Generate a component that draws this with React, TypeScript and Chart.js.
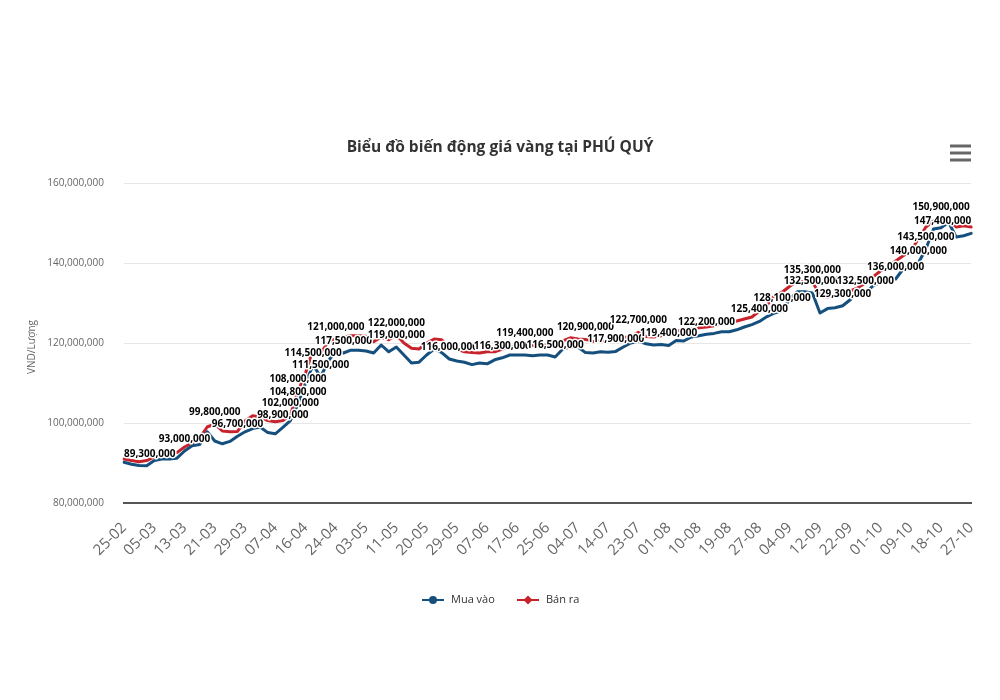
import React, { useEffect, useRef } from 'react';
import { Chart, registerables } from 'chart.js';

Chart.register(...registerables);

const TITLE = 'Biểu đồ biến động giá vàng tại PHÚ QUÝ';
const Y_TITLE = 'VND/Lượng';
const SERIES_NAMES = ['Mua vào', 'Bán ra'];
const SERIES_COLORS = ['#154f7e', '#c8232c'];

const TICK_LABELS = [
  '25-02', '05-03', '13-03', '21-03', '29-03', '07-04', '16-04', '24-04', '03-05', '11-05',
  '20-05', '29-05', '07-06', '17-06', '25-06', '04-07', '14-07', '23-07', '01-08', '10-08',
  '19-08', '27-08', '04-09', '12-09', '22-09', '01-10', '09-10', '18-10', '27-10',
];
const POINTS_PER_TICK = 4;

// values in million VND / lượng
const MUA_VAO = [
  90.2, 89.7, 89.4, 89.3, 90.6, 91.0, 91.0, 91.2, 93.0, 94.3,
  94.6, 97.8, 95.5, 94.8, 95.4, 96.7, 97.8, 98.6, 99.0, 97.6,
  97.3, 98.9, 100.6, 104.8, 110.0, 114.5, 111.5, 115.5, 118.0, 117.5,
  118.2, 118.2, 118.0, 117.5, 119.5, 117.8, 119.0, 117.0, 115.0, 115.2,
  117.0, 118.5, 117.6, 116.0, 115.5, 115.2, 114.6, 115.0, 114.8, 115.8,
  116.3, 117.0, 117.0, 117.0, 116.8, 117.0, 117.0, 116.5, 118.5, 119.0,
  119.0, 117.6, 117.5, 117.8, 117.7, 117.9, 119.0, 120.0, 120.5, 119.8,
  119.5, 119.6, 119.4, 120.6, 120.5, 121.5, 121.8, 122.2, 122.4, 122.8,
  122.8, 123.3, 124.0, 124.6, 125.4, 126.6, 127.5, 128.1, 131.0, 132.8,
  132.8, 132.5, 127.5, 128.6, 128.8, 129.3, 130.8, 133.5, 132.5, 134.3,
  135.2, 135.8, 136.0, 138.5, 139.5, 140.0, 143.5, 148.5, 148.8, 150.2,
  146.5, 146.8, 147.4,
];

const BAN_RA = [
  91.0, 90.6, 90.3, 90.6, 91.5, 92.0, 92.3, 92.6, 94.0, 95.0,
  96.3, 99.0, 99.8, 98.0, 97.8, 97.9, 100.5, 101.8, 101.5, 100.6,
  100.3, 100.6, 102.0, 108.0, 112.5, 118.5, 117.5, 120.2, 121.0, 121.5,
  121.8, 121.8, 121.7, 120.3, 121.5, 120.8, 122.0, 120.0, 118.7, 118.5,
  120.0, 121.0, 120.8, 119.0, 118.5, 117.8, 117.6, 117.5, 117.8, 117.8,
  118.5, 119.0, 119.2, 119.4, 119.4, 119.4, 119.5, 119.6, 120.5, 121.3,
  121.0, 120.9, 120.4, 120.5, 120.7, 120.9, 121.3, 121.6, 122.7, 121.6,
  121.5, 121.8, 122.3, 122.9, 123.3, 123.5, 123.8, 124.0, 124.3, 124.8,
  125.0, 125.5, 126.0, 126.5, 128.0, 129.5, 131.8, 132.7, 134.2, 135.5,
  135.3, 135.3, 132.0, 131.5, 132.0, 132.3, 133.0, 133.8, 135.0, 136.5,
  138.0, 139.0, 140.5, 141.8, 143.0, 146.0, 149.0, 150.5, 150.9, 150.7,
  149.0, 149.3, 149.0,
];

// [series index, point index] of the points that carry a value label
const LABELLED_POINTS: [number, number][] = [
  [0, 3], [0, 8], [1, 12], [0, 15], [0, 21], [1, 22], [0, 23], [1, 23], [0, 25], [0, 26],
  [1, 28], [0, 29], [1, 36], [0, 36], [0, 43], [0, 50], [1, 53], [0, 57], [1, 61], [0, 65],
  [1, 68], [0, 72], [0, 77], [0, 84], [0, 87], [1, 91], [0, 91], [0, 95], [0, 98], [0, 102],
  [0, 105], [0, 106], [1, 108], [0, 112],
];

const Y_MIN = 80000000;
const Y_MAX = 160000000;
const Y_STEP = 20000000;

const FONT = '"Open Sans", "Noto Sans", sans-serif';

const CATEGORIES = MUA_VAO.map((_, i) => (i % POINTS_PER_TICK === 0 ? TICK_LABELS[i / POINTS_PER_TICK] : ''));
const toVnd = (arr: number[]) => arr.map((v) => Math.round(v * 1000000));
const fmt = (v: number) => Math.round(v).toLocaleString('en-US');

const decorPlugin = {
  id: 'decor',
  afterDatasetsDraw(chart: any) {
    const { ctx, chartArea } = chart;
    ctx.save();
    ctx.font = `bold 10px ${FONT}`;
    ctx.textAlign = 'center';
    ctx.textBaseline = 'middle';
    ctx.lineJoin = 'round';
    LABELLED_POINTS.forEach(([s, i]) => {
      const meta = chart.getDatasetMeta(s);
      const el = meta.data[i];
      if (!el) return;
      const value = chart.data.datasets[s].data[i] as number;
      const text = fmt(value);
      const w = ctx.measureText(text).width;
      let x = el.x;
      x = Math.max(chartArea.left + w / 2, Math.min(chartArea.right - w / 2, x));
      const y = el.y - 12;
      ctx.strokeStyle = '#ffffff';
      ctx.lineWidth = 3;
      ctx.strokeText(text, x, y);
      ctx.fillStyle = '#000000';
      ctx.fillText(text, x, y);
    });
    ctx.restore();
  },
  afterDraw(chart: any) {
    const { ctx, chartArea } = chart;
    ctx.save();
    // title
    ctx.fillStyle = '#333333';
    ctx.font = `bold 15.5px ${FONT}`;
    ctx.textAlign = 'center';
    ctx.textBaseline = 'middle';
    ctx.fillText(TITLE, 500, 148);
    // menu icon
    ctx.strokeStyle = '#666666';
    ctx.lineWidth = 3;
    ctx.lineCap = 'butt';
    [146, 153, 160].forEach((yy) => {
      ctx.beginPath();
      ctx.moveTo(950, yy);
      ctx.lineTo(971, yy);
      ctx.stroke();
    });
    // y title
    ctx.save();
    ctx.translate(32, (chartArea.top + chartArea.bottom) / 2 + 4);
    ctx.rotate(-Math.PI / 2);
    ctx.font = `10px ${FONT}`;
    ctx.fillStyle = '#666666';
    ctx.textAlign = 'center';
    ctx.textBaseline = 'middle';
    ctx.fillText(Y_TITLE, 0, 0);
    ctx.restore();
    // legend
    const ly = 600;
    const items = [
      { x: 422, name: SERIES_NAMES[0], color: SERIES_COLORS[0], shape: 'circle' },
      { x: 517, name: SERIES_NAMES[1], color: SERIES_COLORS[1], shape: 'diamond' },
    ];
    items.forEach((it) => {
      ctx.strokeStyle = it.color;
      ctx.fillStyle = it.color;
      ctx.lineWidth = 2;
      ctx.beginPath();
      ctx.moveTo(it.x, ly);
      ctx.lineTo(it.x + 22, ly);
      ctx.stroke();
      const cx = it.x + 11;
      ctx.beginPath();
      if (it.shape === 'circle') {
        ctx.arc(cx, ly, 4, 0, Math.PI * 2);
      } else {
        ctx.moveTo(cx, ly - 4.5);
        ctx.lineTo(cx + 4.5, ly);
        ctx.lineTo(cx, ly + 4.5);
        ctx.lineTo(cx - 4.5, ly);
        ctx.closePath();
      }
      ctx.fill();
      ctx.fillStyle = '#333333';
      ctx.font = `11px ${FONT}`;
      ctx.textAlign = 'left';
      ctx.textBaseline = 'middle';
      ctx.fillText(it.name, it.x + 29, ly);
    });
    ctx.restore();
  },
};

export default function App() {
  const canvasRef = useRef<HTMLCanvasElement | null>(null);

  useEffect(() => {
    const canvas = canvasRef.current;
    if (!canvas) return;
    const chart = new Chart(canvas, {
      type: 'line',
      data: {
        labels: CATEGORIES,
        datasets: [
          {
            label: SERIES_NAMES[0],
            data: toVnd(MUA_VAO),
            borderColor: SERIES_COLORS[0],
            backgroundColor: SERIES_COLORS[0],
            borderWidth: 3,
            pointRadius: 0,
            tension: 0,
            borderJoinStyle: 'round',
            borderCapStyle: 'round',
          },
          {
            label: SERIES_NAMES[1],
            data: toVnd(BAN_RA),
            borderColor: SERIES_COLORS[1],
            backgroundColor: SERIES_COLORS[1],
            borderWidth: 3,
            pointRadius: 0,
            tension: 0,
            borderJoinStyle: 'round',
            borderCapStyle: 'round',
          },
        ],
      },
      options: {
        responsive: false,
        animation: false,
        layout: { padding: { left: 0, top: 183, right: 23, bottom: 137 } },
        plugins: {
          legend: { display: false },
          title: { display: false },
          tooltip: { enabled: false },
        },
        scales: {
          x: {
            type: 'category',
            offset: false,
            grid: { display: false, drawTicks: false },
            border: { display: true, color: '#555555', width: 2 },
            ticks: {
              autoSkip: false,
              maxRotation: 45,
              minRotation: 45,
              padding: 16,
              color: '#666666',
              font: { family: FONT, size: 15 },
            },
            afterFit: (scale: any) => {
              scale.height = 60;
            },
          },
          y: {
            min: Y_MIN,
            max: Y_MAX,
            grid: { color: '#e6e6e6', lineWidth: 1, drawTicks: false },
            border: { display: false },
            ticks: {
              stepSize: Y_STEP,
              padding: 20,
              color: '#666666',
              font: { family: FONT, size: 10 },
              callback: (v: any) => fmt(Number(v)),
            },
            afterFit: (scale: any) => {
              scale.width = 124;
            },
          },
        },
      },
      plugins: [decorPlugin],
    });
    return () => chart.destroy();
  }, []);

  return (
    <div style={{ position: 'absolute', left: 0, top: 0, width: 1000, height: 700, background: '#ffffff' }}>
      <canvas ref={canvasRef} width={1000} height={700} style={{ display: 'block' }} />
    </div>
  );
}
